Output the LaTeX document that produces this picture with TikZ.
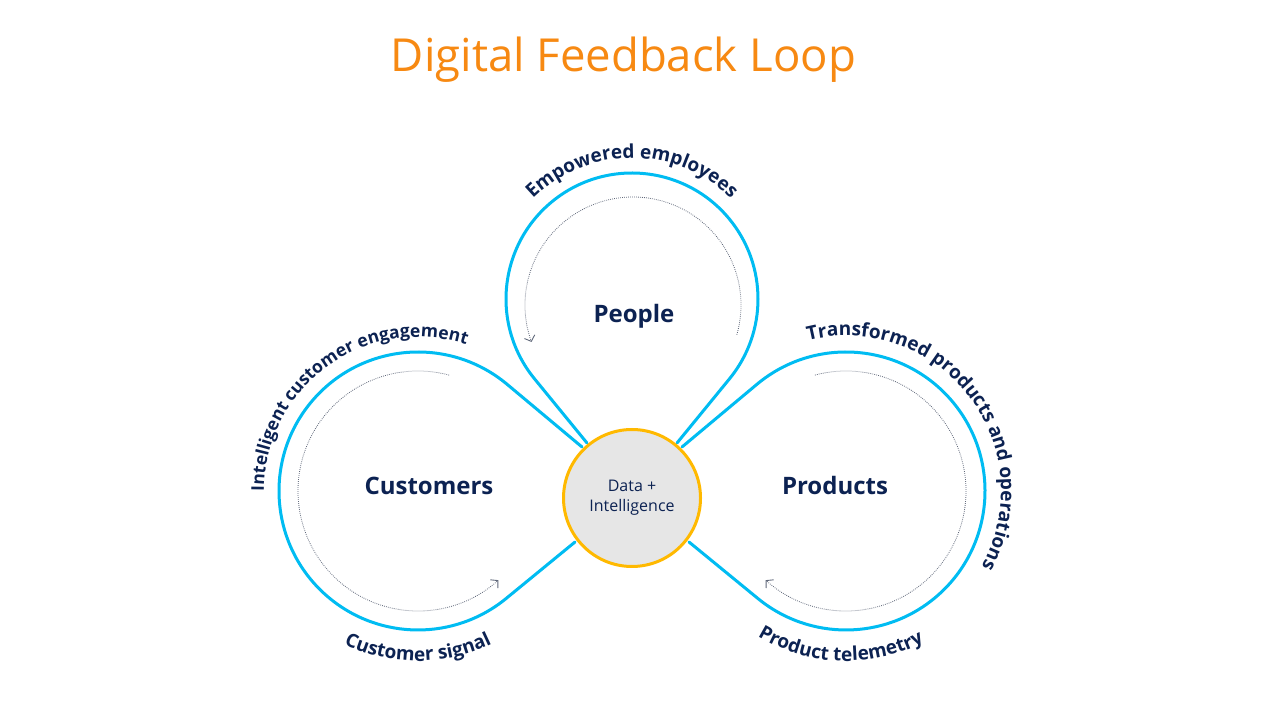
\documentclass[tikz,border=0pt]{standalone}
\usepackage{fontspec}
\setmainfont{Open Sans}
\usetikzlibrary{arrows.meta}
\usetikzlibrary{decorations.text}
\definecolor{loopblue}{RGB}{0,188,242}
\definecolor{coregold}{RGB}{255,185,0}
\definecolor{coregray}{RGB}{230,230,230}
\definecolor{navy}{RGB}{12,34,82}
\definecolor{titleorange}{RGB}{247,137,18}
\definecolor{flowgray}{RGB}{96,104,122}
% text on an arc: [size], centre, radius, start angle, end angle, text
\newcommand*\myarclabel[6][19]{%
    \path[decorate,decoration={text along path,text align=center,
        text={|\color{navy}\bfseries\fontsize{#1}{#1}\selectfont|#6}}]
        ([shift={(#4:#3)}]#2) arc[start angle=#4,end angle=#5,radius=#3];
}
\tikzset{
    loopline/.style={draw=loopblue,line width=3pt,line join=round,line cap=round},
    flowline/.style={draw=flowgray,line width=0.8pt,dash pattern=on 0.8pt off 1.2pt,
        -{Straight Barb[length=5pt,width=11pt,line width=0.9pt]}},
    hub/.style={circle,draw=coregold,line width=3pt,fill=coregray,minimum size=137pt,
        inner sep=0pt,text=navy,align=center,font=\fontsize{16}{20}\selectfont},
    hubname/.style={text=navy,font=\bfseries\fontsize{24}{24}\selectfont},
    headline/.style={text=titleorange,anchor=base,font=\fontsize{45.5}{46}\selectfont},
}

\begin{document}
\begin{tikzpicture}[x=1pt,y=1pt]
\useasboundingbox[fill=white] (0,0) rectangle (1280,720);

\coordinate (cust) at (418,229);
\coordinate (prod) at (846,229);
\coordinate (ppl) at (632,421);
\coordinate (pflow) at (633,415);
% where the loops meet the hub
\coordinate (cu) at (582,273);
\coordinate (cl) at (575,178);
\coordinate (pu) at (682,273);
\coordinate (pl) at (689,178);
\coordinate (el) at (587,277);
\coordinate (er) at (677,277);

% the three loops
\draw[loopline] (cu) -- ([shift={(50.07:139)}]cust) arc[start angle=50.07,end angle=309.35,radius=139] -- (cl);
\draw[loopline] (pu) -- ([shift={(129.93:139)}]prod) arc[start angle=129.93,end angle=-129.35,radius=139] -- (pl);
\draw[loopline] (el) -- ([shift={(219.25:126)}]ppl) arc[start angle=219.25,end angle=-39.25,radius=126] -- (er);

% inner arrows
\draw[flowline] ([shift={(75:120)}]cust) arc[start angle=75,end angle=312,radius=120];
\draw[flowline] ([shift={(105:120)}]prod) arc[start angle=105,end angle=-132,radius=120];
\draw[flowline] ([shift={(-16:108)}]pflow) arc[start angle=-16,end angle=200,radius=108];

\node[hub] (core) at (632,222) {Data +\\Intelligence};

\node[hubname] (customers) at (429,234.5) {Customers};
\node[hubname] (products) at (835,234) {Products};
\node[hubname] (people) at (634,404) {People};

\node[headline] (title) at (623.5,648) {Digital Feedback Loop};

\myarclabel{ppl}{141}{160}{20}{Empowered employees}
\myarclabel[17.5]{cust}{154}{196}{56}{Intelligent customer engagement}
\myarclabel{prod}{155}{110}{-35}{Transformed products and operations}
\myarclabel{cust}{170}{230}{310}{Customer signal}
\myarclabel{prod}{170}{228}{308}{Product telemetry}
\end{tikzpicture}
\end{document}
